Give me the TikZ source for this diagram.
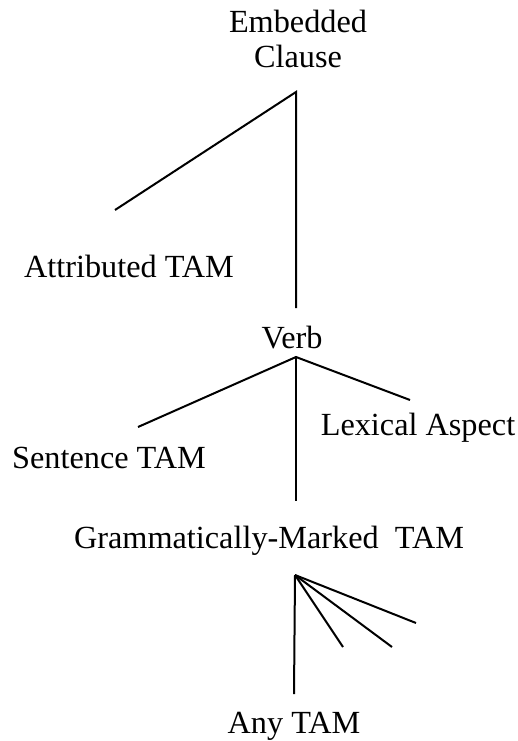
\documentclass[tikz,border=0pt]{standalone}
\usepackage{fontspec}
\setmainfont{Liberation Serif}
\usepackage{tikz}
\usetikzlibrary{positioning}

\tikzset{
    lbl/.style={inner sep=0pt, anchor=base, font=\fontsize{24.2}{26.3}\selectfont, align=center},
    branch/.style={line width=1.5pt}
}

\begin{document}
\begin{tikzpicture}[x=0.75pt,y=-0.75pt]
            \useasboundingbox (0,0) rectangle (517,741);

            % base of a two-line node sits on its last line
            \node[lbl] (clause) at (298,68) {Embedded\\Clause};
            \node[lbl] (attr) at (129,277) {Attributed TAM};
            \node[lbl] (verb) at (292,348) {Verb};
            \node[lbl] (sent) at (109,468) {Sentence TAM};
            \node[lbl] (lex) at (418,435) {Lexical Aspect};
            \node[lbl] (gram) at (269,548) {Grammatically-Marked\ \ TAM};
            \node[lbl] (any) at (294,733) {Any TAM};

            \coordinate (c0) at (296,92);
            \coordinate (c1) at (115,210);
            \coordinate (c2) at (296,308);

            \coordinate (v0) at (296,357);
            \coordinate (v1) at (138,427);
            \coordinate (v2) at (296,501);
            \coordinate (v3) at (410,400);

            \coordinate (g0) at (295,575);
            \coordinate (g1) at (294,694);
            \coordinate (g2) at (343,647);
            \coordinate (g3) at (392,647);
            \coordinate (g4) at (416,623);

            \draw[branch] (c1) -- (c0) -- (c2);
            \draw[branch] (v1) -- (v0) -- (v3);
            \draw[branch] (v0) -- (v2);
            \foreach \e in {g1,g2,g3,g4}
                \draw[branch] (g0) -- (\e);
        \end{tikzpicture}
\end{document}
